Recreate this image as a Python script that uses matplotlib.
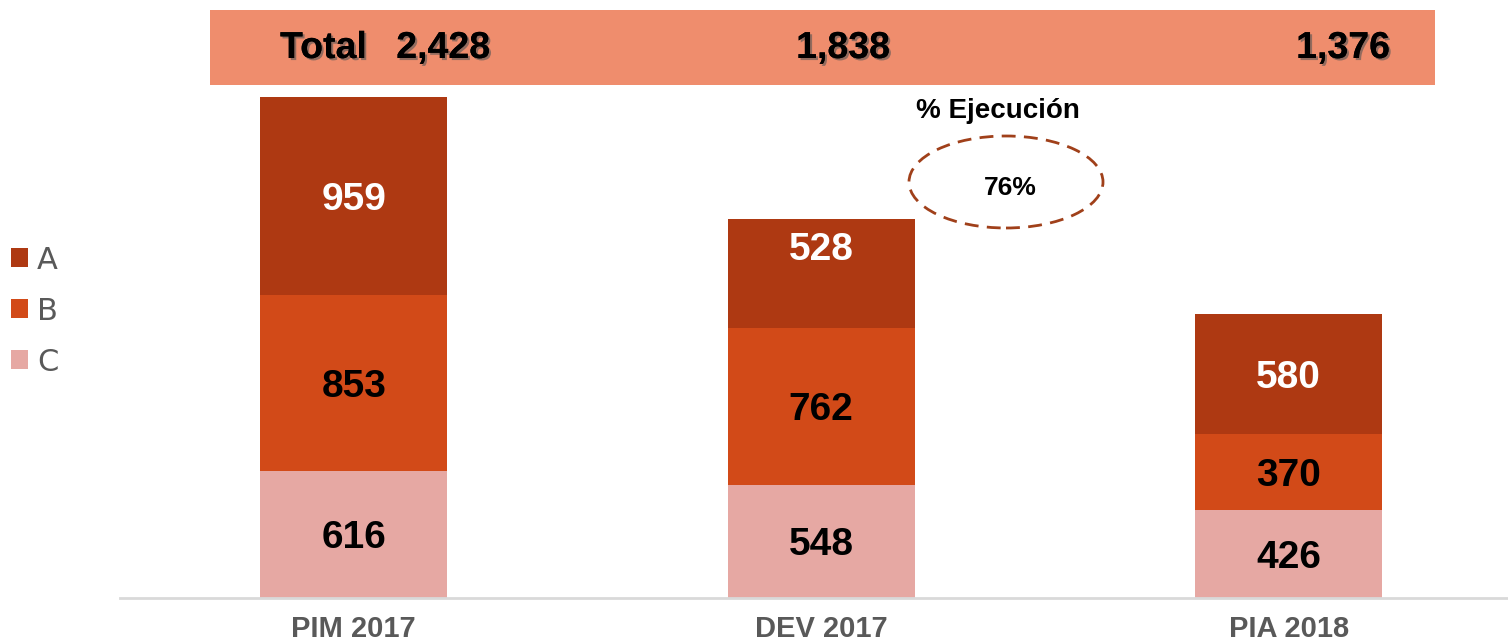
import matplotlib
matplotlib.use('Agg')
import matplotlib.pyplot as plt
import matplotlib.patheffects as pe
from matplotlib.patches import Rectangle, Ellipse

# data
categories = ['PIM 2017', 'DEV 2017', 'PIA 2018']
serie_c = [616, 548, 426]
serie_b = [853, 762, 370]
serie_a = [959, 528, 580]
ejecucion = '76%'

col_a = '#AE3912'
col_b = '#D24A18'
col_c = '#E6A8A3'
gray = '#595959'
narrow = ['Liberation Sans Narrow', 'Liberation Sans', 'DejaVu Sans']
regular = ['Liberation Sans', 'DejaVu Sans']

W, H = 1508, 644
fig = plt.figure(figsize=(W / 100, H / 100), dpi=100)

# axes placed in pixel units: baseline at y=598, 2428 at y=97
ymax = 2600
scale = (598 - 97) / 2428.0
ax_h = ymax * scale
ax = fig.add_axes([120 / W, 46 / H, (W - 120) / W, ax_h / H])

x = list(range(len(categories)))
totals = [a + b + c for a, b, c in zip(serie_a, serie_b, serie_c)]
bottom_b = serie_c
bottom_a = [b + c for b, c in zip(serie_b, serie_c)]

ax.bar(x, serie_c, width=0.4, color=col_c, label='C')
ax.bar(x, serie_b, width=0.4, bottom=bottom_b, color=col_b, label='B')
ax.bar(x, serie_a, width=0.4, bottom=bottom_a, color=col_a, label='A')

ax.set_xlim(-0.5, 2.469)
ax.set_ylim(0, ymax)
for s in ['top', 'right', 'left']:
    ax.spines[s].set_visible(False)
ax.spines['bottom'].set_color('#D9D9D9')
ax.spines['bottom'].set_linewidth(2)
ax.set_yticks([])
ax.set_xticks(x)
ax.set_xticklabels(categories, family=narrow, fontweight='bold', fontsize=21, color=gray)
ax.tick_params(axis='x', length=0, pad=12)

# segment labels
lbl = dict(ha='center', va='center_baseline', fontsize=28, fontweight='bold', family=regular)
for i in x:
    ax.text(i, serie_c[i] / 2, f'{serie_c[i]:,}', color='black', **lbl)
    ax.text(i, bottom_b[i] + serie_b[i] / 2, f'{serie_b[i]:,}', color='black', **lbl)
    ya = bottom_a[i] + serie_a[i] / 2
    if i == 1:
        ya = bottom_a[i] + serie_a[i] * 0.75
    ax.text(i, ya, f'{serie_a[i]:,}', color='white', **lbl)

# total band
fig.patches.append(Rectangle((210 / W, 1 - 85 / H), (1435 - 210) / W, 75 / H,
                             transform=fig.transFigure, facecolor='#EF8D6D',
                             edgecolor='none', zorder=0))
shadow = [pe.withSimplePatchShadow(offset=(1.5, -1.5), shadow_rgbFace='#555555', alpha=0.6),
          pe.Normal()]
ty = 1 - 44 / H
tot_kw = dict(va='center_baseline', fontsize=27, fontweight='bold', family=narrow,
              color='black', path_effects=shadow)
fig.text(280 / W, ty, 'Total', ha='left', **tot_kw)
for px, t in zip([490, 890, 1390], totals):
    fig.text(px / W, ty, f'{t:,}', ha='right', **tot_kw)

# ejecucion
fig.text(998 / W, 1 - 108 / H, '% Ejecución', ha='center', va='center_baseline',
         fontsize=20, fontweight='bold', family=regular, color='black')
fig.patches.append(Ellipse((1006 / W, 1 - 182 / H), 194 / W, 92 / H,
                           transform=fig.transFigure, fill=False,
                           edgecolor='#A0401A', linestyle=(0, (5, 3)), linewidth=2))
fig.text(1010 / W, 1 - 185 / H, ejecucion, ha='center', va='center_baseline',
         fontsize=19, fontweight='bold', family=narrow, color='black')

# legend
h, l = ax.get_legend_handles_labels()
fig.legend(h[::-1], l[::-1], loc='center left', bbox_to_anchor=(11 / W, 1 - 311 / H),
           frameon=False, fontsize=22, labelcolor=gray, handlelength=0.55,
           handleheight=0.55, handletextpad=0.3, labelspacing=0.72,
           borderpad=0, borderaxespad=0)

plt.savefig('out.png', dpi=100)
